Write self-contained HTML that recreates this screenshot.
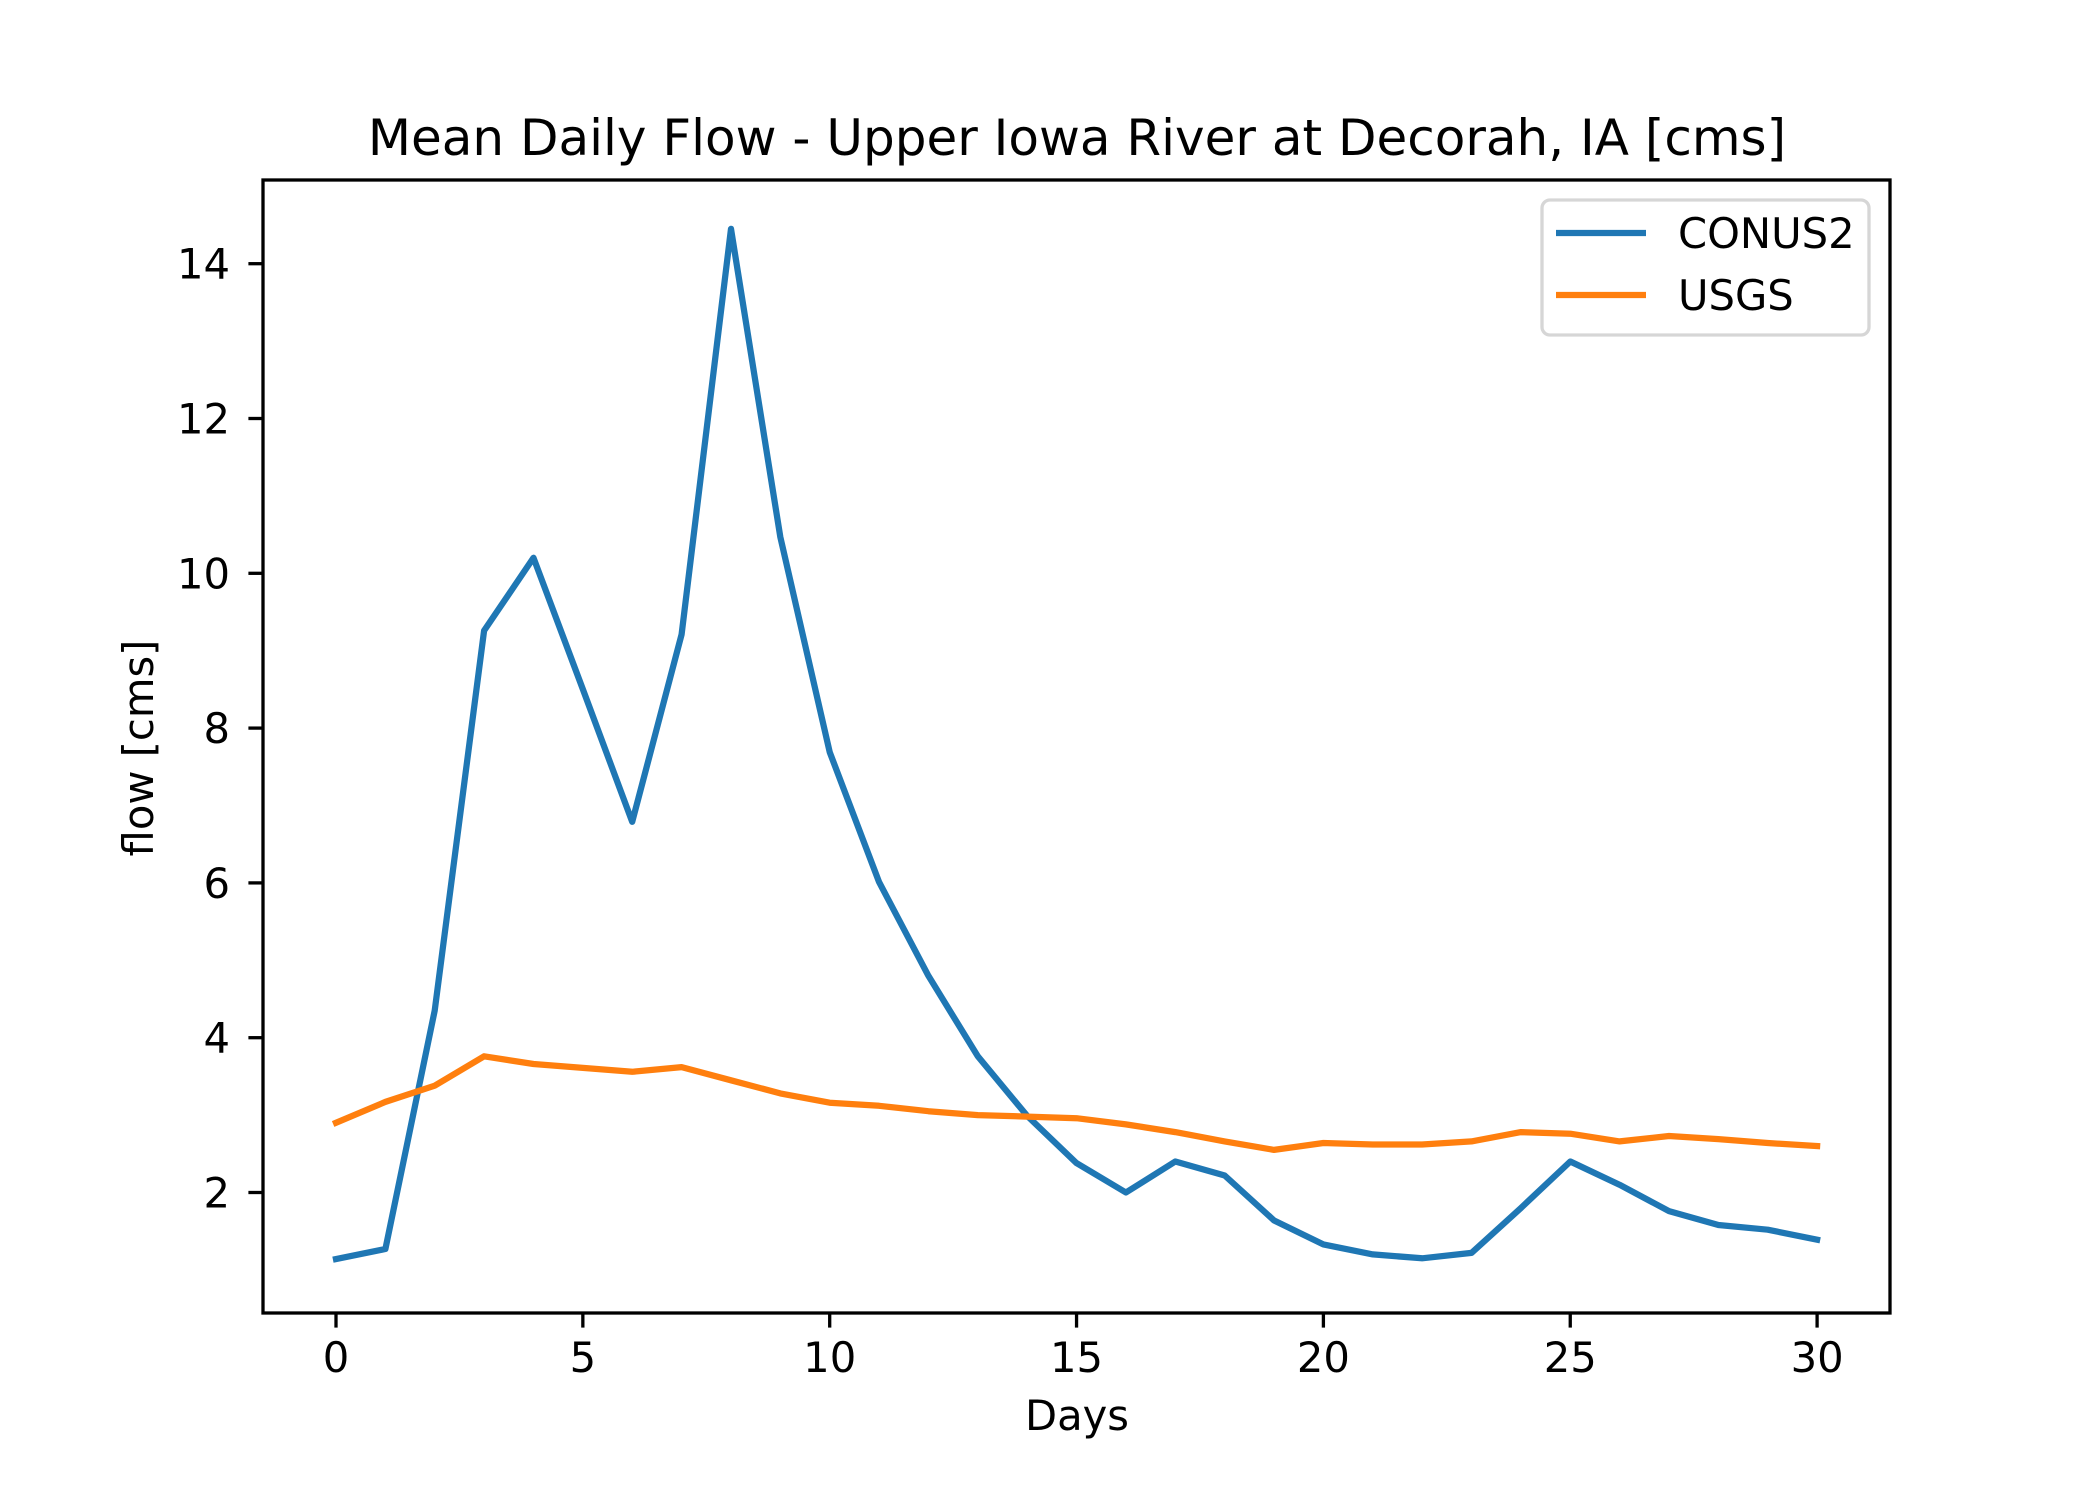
<!DOCTYPE html>
<html><head><meta charset="utf-8"><style>
html,body{margin:0;padding:0;background:#fff;}
svg{display:block;font-family:"DejaVu Sans","Liberation Sans",sans-serif;}
</style></head><body>
<svg id="chart" width="2100" height="1500" viewBox="0 0 2100 1500" xmlns="http://www.w3.org/2000/svg">
<rect width="2100" height="1500" fill="#fff"/>
<text x="1077" y="155" font-size="50" text-anchor="middle">Mean Daily Flow - Upper Iowa River at Decorah, IA [cms]</text>
<g id="plot"></g>
<text x="1077" y="1430" font-size="41.7" text-anchor="middle">Days</text>
<text transform="translate(153,748) rotate(-90)" font-size="41.7" text-anchor="middle">flow [cms]</text>
<g>
<rect x="1542" y="200" width="327" height="135" rx="8" fill="#fff" fill-opacity="0.8" stroke="#d6d6d6" stroke-width="3.3"/>
<line x1="1556" y1="233" x2="1646" y2="233" stroke="#1f77b4" stroke-width="6.25"/>
<text x="1678" y="248" font-size="41.7">CONUS2</text>
<line x1="1556" y1="295" x2="1646" y2="295" stroke="#ff7f0e" stroke-width="6.25"/>
<text x="1678" y="310" font-size="41.7">USGS</text>
</g>
</svg>
<script>
const days = [0,1,2,3,4,5,6,7,8,9,10,11,12,13,14,15,16,17,18,19,20,21,22,23,24,25,26,27,28,29,30];
const conus2 = [1.14,1.27,4.35,9.26,10.2,8.5,6.79,9.21,14.45,10.47,7.69,6.01,4.8,3.76,2.99,2.38,2.0,2.4,2.22,1.64,1.33,1.2,1.15,1.22,1.8,2.4,2.1,1.76,1.58,1.52,1.39];
const usgs = [2.9,3.17,3.38,3.76,3.66,3.61,3.56,3.62,3.45,3.28,3.16,3.12,3.05,3.0,2.98,2.96,2.88,2.78,2.66,2.55,2.64,2.62,2.62,2.66,2.78,2.76,2.66,2.73,2.69,2.64,2.6];
const xTicks = [0,5,10,15,20,25,30];
const yTicks = [2,4,6,8,10,12,14];

const NS = "http://www.w3.org/2000/svg";
const L = 263, R = 1890, T = 180, B = 1313;
function xPx(d){ return 336 + d * 49.37; }
function yPx(v){ return 573.3 + (10 - v) * 77.4; }
const g = document.getElementById('plot');
function mk(tag, attrs){ const e = document.createElementNS(NS, tag); for (const k in attrs) e.setAttribute(k, attrs[k]); return e; }

function series(vals, color, name){
  const pts = vals.map((v,i)=> xPx(days[i]).toFixed(1) + ',' + yPx(v).toFixed(1)).join(' ');
  const pl = mk('polyline', {points: pts, fill: 'none', stroke: color, 'stroke-width': 6.25, 'stroke-linejoin': 'round', 'stroke-linecap': 'square'});
  
  
  g.appendChild(pl);
}
series(conus2, '#1f77b4', 'series-conus2');
series(usgs, '#ff7f0e', 'series-usgs');

const frame = mk('rect', {x: L, y: T, width: R - L, height: B - T, fill: 'none', stroke: '#000', 'stroke-width': 3.3});


g.appendChild(frame);

xTicks.forEach(t => {
  const x = xPx(t);
  const tk = mk('line', {x1: x, y1: B, x2: x, y2: B + 14.6, stroke: '#000', 'stroke-width': 3.3});
  
  
  g.appendChild(tk);
  const lb = mk('text', {x: x, y: 1372, 'font-size': 41.7, 'text-anchor': 'middle'});
  lb.textContent = String(t);
  
  
  g.appendChild(lb);
});
yTicks.forEach(t => {
  const y = yPx(t);
  const tk = mk('line', {x1: L - 14.6, y1: y, x2: L, y2: y, stroke: '#000', 'stroke-width': 3.3});
  
  
  g.appendChild(tk);
  const lb = mk('text', {x: 230, y: y + 15, 'font-size': 41.7, 'text-anchor': 'end'});
  lb.textContent = String(t);
  
  
  g.appendChild(lb);
});
</script>
</body></html>
